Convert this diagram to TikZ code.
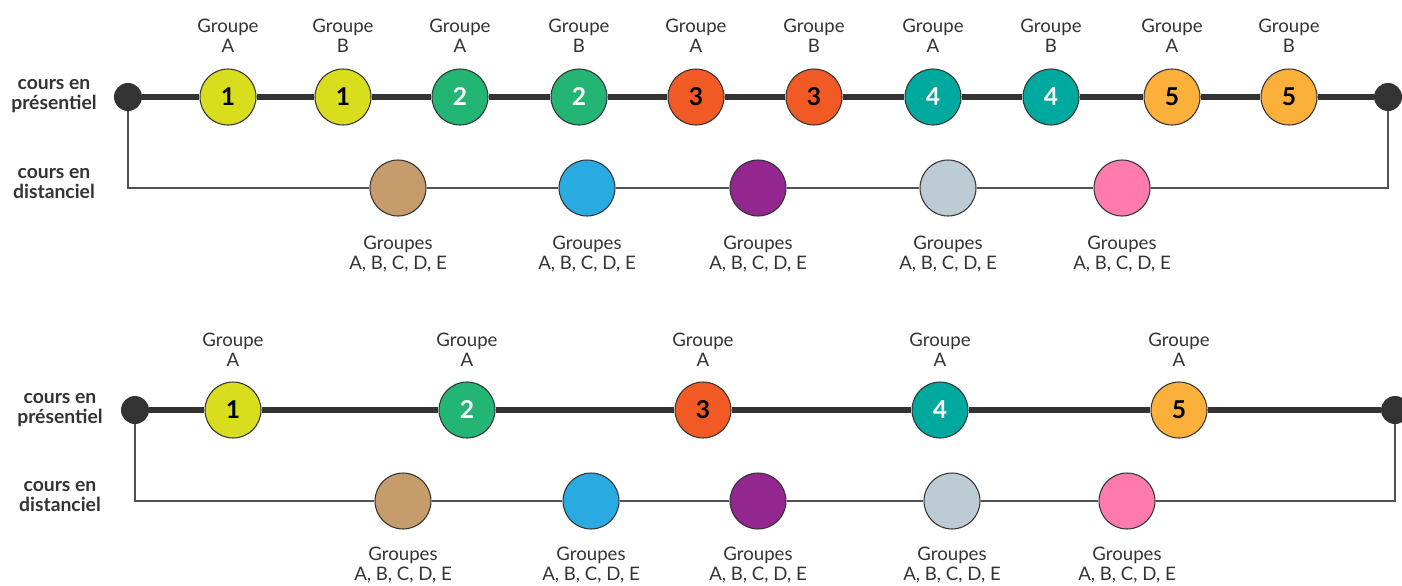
\documentclass[tikz,border=0pt]{standalone}
\usepackage{fontspec}
\setmainfont{Lato}
\definecolor{jaune}{HTML}{D8DE1E}
\definecolor{vert}{HTML}{22B573}
\definecolor{rouge}{HTML}{F15A24}
\definecolor{turq}{HTML}{00A99D}
\definecolor{orange}{HTML}{FBB03B}
\definecolor{beige}{HTML}{C69C6D}
\definecolor{bleu}{HTML}{29ABE2}
\definecolor{violet}{HTML}{93278F}
\definecolor{gris}{HTML}{BDCCD4}
\definecolor{rose}{HTML}{FF7BAC}
\definecolor{fonce}{HTML}{333333}
\tikzset{
  seance/.style={circle, draw=fonce, line width=0.6pt, minimum size=1.12cm, inner sep=0pt,
    font=\fontsize{14}{14}\selectfont\bfseries},
  bout/.style={circle, fill=fonce, minimum size=0.56cm, inner sep=0pt},
  rail/.style={line width=2.9pt, draw=fonce},
  fil/.style={line width=0.8pt, draw=fonce!85},
  lbl/.style={align=center, text=fonce, font=\fontsize{10.6}{11.4}\selectfont},
  cote/.style={align=center, text=fonce, font=\fontsize{11}{11.4}\selectfont\bfseries}
}
\begin{document}
\begin{tikzpicture}[x=0.02cm, y=-0.02cm]
  \useasboundingbox (0,0) rectangle (1402,585);
  % premier schema : groupes A et B
  \node[cote] (cp1) at (54,96) {cours en\\présentiel};
  \node[cote] (cd1) at (54,184) {cours en\\distanciel};
  \node[bout] (g1) at (128,97) {}; \node[bout] (d1) at (1388,97) {};
  \node[seance, fill=jaune] (pa1) at (228,97) {1};
  \node[seance, fill=jaune] (pb1) at (343,97) {1};
  \node[seance, fill=vert, text=white] (pa2) at (460,97) {2};
  \node[seance, fill=vert, text=white] (pb2) at (579,97) {2};
  \node[seance, fill=rouge] (pa3) at (696,97) {3};
  \node[seance, fill=rouge] (pb3) at (814,97) {3};
  \node[seance, fill=turq, text=white] (pa4) at (933,97) {4};
  \node[seance, fill=turq, text=white] (pb4) at (1051,97) {4};
  \node[seance, fill=orange] (pa5) at (1172,97) {5};
  \node[seance, fill=orange] (pb5) at (1289,97) {5};
  \node[lbl] (ta1) at (228,36) {Groupe\\A}; \node[lbl] (tb1) at (343,36) {Groupe\\B};
  \node[lbl] (ta2) at (460,36) {Groupe\\A}; \node[lbl] (tb2) at (579,36) {Groupe\\B};
  \node[lbl] (ta3) at (696,36) {Groupe\\A}; \node[lbl] (tb3) at (814,36) {Groupe\\B};
  \node[lbl] (ta4) at (933,36) {Groupe\\A}; \node[lbl] (tb4) at (1051,36) {Groupe\\B};
  \node[lbl] (ta5) at (1172,36) {Groupe\\A}; \node[lbl] (tb5) at (1289,36) {Groupe\\B};
  \node[seance, fill=beige] (da1) at (398,188) {};
  \node[seance, fill=bleu] (da2) at (587,188) {};
  \node[seance, fill=violet] (da3) at (758,188) {};
  \node[seance, fill=gris] (da4) at (948,188) {};
  \node[seance, fill=rose] (da5) at (1122,188) {};
  \node[lbl] (td1) at (398,254) {Groupes\\A, B, C, D, E};
  \node[lbl] (td2) at (587,254) {Groupes\\A, B, C, D, E};
  \node[lbl] (td3) at (758,254) {Groupes\\A, B, C, D, E};
  \node[lbl] (td4) at (948,254) {Groupes\\A, B, C, D, E};
  \node[lbl] (td5) at (1122,254) {Groupes\\A, B, C, D, E};
  \draw[rail] (g1) -- (pa1) -- (pb1) -- (pa2) -- (pb2) -- (pa3) -- (pb3) -- (pa4) -- (pb4) -- (pa5) -- (pb5) -- (d1);
  \draw[fil] (g1) |- (da1) -- (da2) -- (da3) -- (da4) -- (da5) -| (d1);
  % second schema : groupe A seul
  \node[cote] (cp2) at (60,410) {cours en\\présentiel};
  \node[cote] (cd2) at (60,497) {cours en\\distanciel};
  \node[bout] (g2) at (135,410) {}; \node[bout] (d2) at (1395,410) {};
  \node[seance, fill=jaune] (qa1) at (233,410) {1};
  \node[seance, fill=vert, text=white] (qa2) at (467,410) {2};
  \node[seance, fill=rouge] (qa3) at (703,410) {3};
  \node[seance, fill=turq, text=white] (qa4) at (940,410) {4};
  \node[seance, fill=orange] (qa5) at (1179,410) {5};
  \node[lbl] (sa1) at (233,350) {Groupe\\A}; \node[lbl] (sa2) at (467,350) {Groupe\\A};
  \node[lbl] (sa3) at (703,350) {Groupe\\A}; \node[lbl] (sa4) at (940,350) {Groupe\\A};
  \node[lbl] (sa5) at (1179,350) {Groupe\\A};
  \node[seance, fill=beige] (ea1) at (403,501) {};
  \node[seance, fill=bleu] (ea2) at (591,501) {};
  \node[seance, fill=violet] (ea3) at (758,501) {};
  \node[seance, fill=gris] (ea4) at (952,501) {};
  \node[seance, fill=rose] (ea5) at (1127,501) {};
  \node[lbl] (se1) at (403,565) {Groupes\\A, B, C, D, E};
  \node[lbl] (se2) at (591,565) {Groupes\\A, B, C, D, E};
  \node[lbl] (se3) at (758,565) {Groupes\\A, B, C, D, E};
  \node[lbl] (se4) at (952,565) {Groupes\\A, B, C, D, E};
  \node[lbl] (se5) at (1127,565) {Groupes\\A, B, C, D, E};
  \draw[rail] (g2) -- (qa1) -- (qa2) -- (qa3) -- (qa4) -- (qa5) -- (d2);
  \draw[fil] (g2) |- (ea1) -- (ea2) -- (ea3) -- (ea4) -- (ea5) -| (d2);
\end{tikzpicture}
\end{document}
